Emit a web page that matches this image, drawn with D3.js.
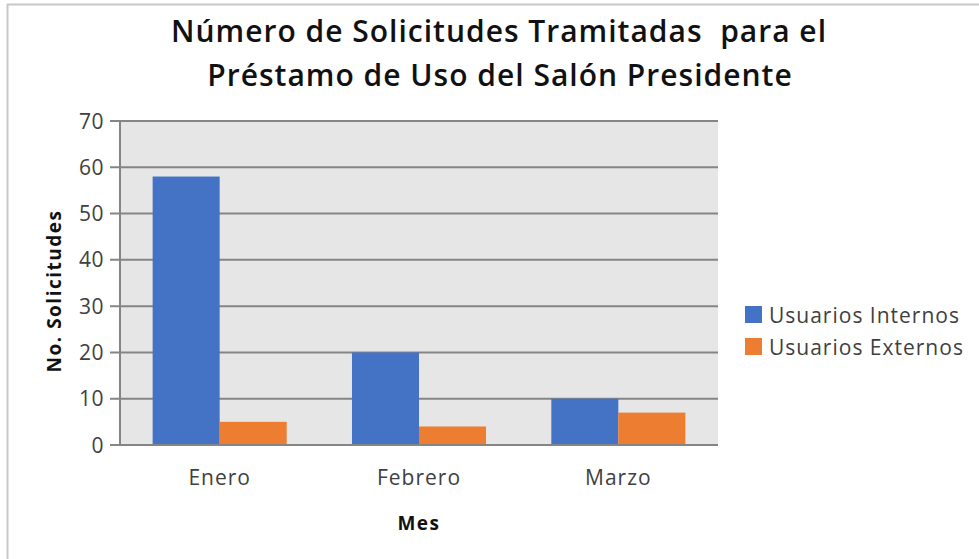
<!DOCTYPE html>
<html><head><meta charset="utf-8">
<script src="https://cdn.jsdelivr.net/npm/d3@7"></script>
<style>body{margin:0;background:#fff}svg{display:block}</style>
</head><body>
<svg id="c" width="979" height="559"></svg>
<script>
const categories = ["Enero", "Febrero", "Marzo"];
const seriesNames = ["Usuarios Internos", "Usuarios Externos"];
const internos = [58, 20, 10];
const externos = [5, 4, 7];
const yTicks = [0, 10, 20, 30, 40, 50, 60, 70];
const colors = ["#4472c4", "#ed7d31"];

const svg = d3.select("#c");
const font = "'Open Sans', 'Noto Sans', sans-serif";
const m = {l: 120, r: 718, t: 121, b: 445};

// outer frame (top and left edges visible)
svg.append("line").attr("x1", 7).attr("x2", 979).attr("y1", 4.5).attr("y2", 4.5).attr("stroke", "#c8c8c8").attr("stroke-width", 2);
svg.append("line").attr("x1", 7.5).attr("x2", 7.5).attr("y1", 4).attr("y2", 559).attr("stroke", "#c8c8c8").attr("stroke-width", 2);

const x0 = d3.scaleBand().domain(categories).range([m.l, m.r]).padding(0);
const x1 = d3.scaleBand().domain(seriesNames).range([0, x0.bandwidth()]).paddingInner(0).paddingOuter(0.487);
const y = d3.scaleLinear().domain([0, 70]).range([m.b, m.t]);

svg.append("rect").attr("x", m.l).attr("y", m.t).attr("width", m.r - m.l).attr("height", m.b - m.t).attr("fill", "#e6e6e6");

// gridlines
svg.append("g").selectAll("line").data(yTicks).join("line")
  .attr("x1", m.l - 10).attr("x2", m.r).attr("y1", d => y(d)).attr("y2", d => y(d))
  .attr("stroke", "#858585").attr("stroke-width", 2);

const data = categories.map((c, i) => ({cat: c, vals: [internos[i], externos[i]]}));
svg.append("g").selectAll("g").data(data).join("g")
  .attr("transform", d => `translate(${x0(d.cat)},0)`)
  .selectAll("rect").data(d => d.vals.map((v, j) => ({s: seriesNames[j], v, j}))).join("rect")
  .attr("x", d => x1(d.s)).attr("width", x1.bandwidth())
  .attr("y", d => y(d.v)).attr("height", d => y(0) - y(d.v))
  .attr("fill", d => colors[d.j]);

// axis lines
svg.append("line").attr("x1", m.l).attr("x2", m.l).attr("y1", m.t).attr("y2", m.b).attr("stroke", "#858585").attr("stroke-width", 2);
svg.append("line").attr("x1", m.l - 10).attr("x2", m.r).attr("y1", m.b).attr("y2", m.b).attr("stroke", "#858585").attr("stroke-width", 2);

// y tick labels
svg.append("g").selectAll("text").data(yTicks).join("text")
  .attr("x", 104).attr("y", d => y(d)).attr("dy", "0.36em").attr("text-anchor", "end")
  .attr("font-family", font).attr("font-size", 21).attr("letter-spacing", 0.5).attr("fill", "#404040").text(d => d);

// x labels
svg.append("g").selectAll("text").data(categories).join("text")
  .attr("x", d => x0(d) + x0.bandwidth() / 2).attr("y", 485).attr("text-anchor", "middle")
  .attr("font-family", font).attr("font-size", 21).attr("letter-spacing", 1).attr("fill", "#404040").text(d => d);

// axis titles
svg.append("text").attr("x", (m.l + m.r) / 2).attr("y", 530).attr("text-anchor", "middle")
  .attr("font-family", font).attr("font-size", 19).attr("letter-spacing", 1.5).attr("font-weight", "bold").attr("fill", "#111").text("Mes");
svg.append("text").attr("transform", `translate(61,${(m.t + m.b) / 2 + 8}) rotate(-90)`).attr("text-anchor", "middle")
  .attr("font-family", font).attr("font-size", 19).attr("letter-spacing", 1.5).attr("font-weight", "bold").attr("fill", "#111").text("No. Solicitudes");

// title
const title = svg.append("text").attr("text-anchor", "middle").attr("font-family", font)
  .attr("font-size", 30).attr("letter-spacing", 1).attr("font-weight", 600).attr("fill", "#111");
title.append("tspan").attr("x", 499).attr("y", 42).attr("xml:space", "preserve").text("Número de Solicitudes Tramitadas  para el");
title.append("tspan").attr("x", 500).attr("y", 86).text("Préstamo de Uso del Salón Presidente");

// legend
const leg = svg.append("g").selectAll("g").data(seriesNames).join("g")
  .attr("transform", (d, i) => `translate(745,${306 + i * 32})`);
leg.append("rect").attr("width", 17).attr("height", 17).attr("fill", (d, i) => colors[i]);
leg.append("text").attr("x", 24).attr("y", 9).attr("dy", "0.36em").attr("font-family", font)
  .attr("font-size", 21).attr("letter-spacing", 1).attr("fill", "#404040").text(d => d);
</script>
</body></html>
